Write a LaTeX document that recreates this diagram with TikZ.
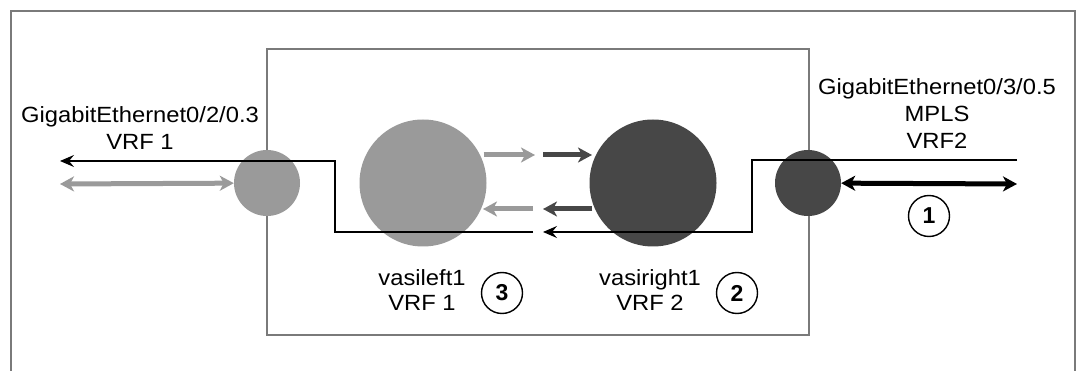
\documentclass[tikz,border=0pt]{standalone}
\usepackage{fontspec}
\setmainfont{Liberation Sans}
\newfontfamily\lblfont[FakeStretch=1.08]{Liberation Sans}
\usetikzlibrary{arrows.meta}
\definecolor{lightg}{HTML}{9A9A9A}
\definecolor{darkg}{HTML}{474747}
\definecolor{frameg}{HTML}{7A7A7A}
\tikzset{
  framel/.style={draw=frameg, line width=1.6pt},
  port/.style={circle, minimum size=66pt, inner sep=0pt},
  vasi/.style={circle, minimum size=127pt, inner sep=0pt},
  lbl/.style={align=center, font=\lblfont\fontsize{22}{27}\selectfont, inner sep=0pt},
  numc/.style={circle, draw=black, line width=1.4pt, minimum size=41pt, inner sep=0pt, font=\bfseries\fontsize{23}{24}\selectfont},
  blk/.style={draw=black, line width=1.3pt},
  tipw/.tip={Stealth[length=14pt,width=15pt,inset=4pt]},
  thickg/.style={line width=5pt, draw=lightg, -tipw},
  thickd/.style={line width=5pt, draw=darkg, -tipw},
  blktip/.style={-{Stealth[length=14pt,width=12pt,inset=5pt]}}
}
\begin{document}
\begin{tikzpicture}[x=1pt,y=-1pt]
\useasboundingbox (0,0) rectangle (1077,371);
\fill[white] (0,0) rectangle (1077,371);
% outer frame (bottom open)
\draw[framel] (11,371) -- (11,11) -- (1075,11) -- (1075,371);
% inner box
\draw[framel] (267,49) rectangle (809,335);

% black path coordinates
\coordinate (rEnd) at (1017,160);
\coordinate (rTurnA) at (752,160);
\coordinate (rTurnB) at (752,232);
\coordinate (mTip) at (543,232);
\coordinate (mStart) at (533,232);
\coordinate (lTurnA) at (335,232);
\coordinate (lTurnB) at (335,161);
\coordinate (lTip) at (60,161);

% circles
\node[port, fill=lightg] (portL) at (267,183) {};
\node[port, fill=darkg] (portR) at (808,183) {};
\node[vasi, fill=lightg] (vasiL) at (423,183) {};
\node[vasi, fill=darkg] (vasiR) at (653,183) {};

% black paths (on top of circles)
\draw[blk, blktip] (rEnd) -- (rTurnA) -- (rTurnB) -- (mTip);
\draw[blk, blktip] (mStart) -- (lTurnA) -- (lTurnB) -- (lTip);

% double arrows
\coordinate (gL) at (60,184);
\draw[line width=5pt, draw=lightg, tipw-tipw] (gL) -- (portL);
\coordinate (bR) at (1017,184);
\draw[line width=5pt, draw=black, tipw-tipw] (portR) -- (bR);

% middle arrows
\coordinate (m1) at (535,155);
\coordinate (m2) at (543,155);
\coordinate (m3) at (533,209);
\coordinate (m4) at (543,209);
\draw[thickg] (vasiL.east |- m1) ++(-3,0) -- (m1);
\draw[thickd] (m2) -- (592,155);
\draw[thickd] (vasiR.west |- m4) ++(3,0) -- (m4);
\draw[thickg] (m3) -- (483,209);

% labels
\node[lbl] (lblL) at (140,128) {GigabitEthernet0/2/0.3\\VRF 1};
\node[lbl] (lblR) at (937,114) {GigabitEthernet0/3/0.5\\MPLS\\VRF2};
\node[lbl, font=\lblfont\fontsize{22}{25}\selectfont] (lblVL) at (422,290) {vasileft1\\VRF 1};
\node[lbl, font=\lblfont\fontsize{22}{25}\selectfont] (lblVR) at (650,290) {vasiright1\\VRF 2};

\node[numc] (n1) at (929,216) {1};
\node[numc] (n3) at (502,293) {3};
\node[numc] (n2) at (737,293) {2};
\end{tikzpicture}
\end{document}
